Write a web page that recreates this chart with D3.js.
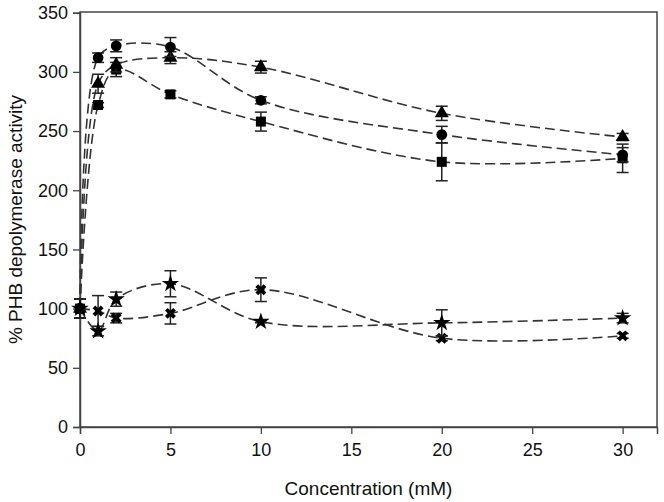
<!DOCTYPE html>
<html><head><meta charset="utf-8">
<script src="https://cdn.jsdelivr.net/npm/d3@7"></script>
<style>body{margin:0;background:#fff}svg{display:block}text{font-family:"Liberation Sans",Arial,sans-serif;fill:#111}</style>
</head><body><svg id="c" width="664" height="502"></svg>
<script>
const xValues = [0, 1, 2, 5, 10, 20, 30];
const circleVals = [100, 312, 322, 321, 276, 247, 230];
const circleErr = [8, 4, 5, 8, 3, 7, 6];
const triangleVals = [100, 290, 306, 312, 304, 265, 245];
const triangleErr = [8, 8, 6, 5, 5, 6, 3];
const squareVals = [100, 272, 302, 281, 258, 224, 227];
const squareErr = [8, 2, 6, 3, 8, 16, 12];
const starVals = [100, 81, 108, 121, 89, 88, 92];
const starErr = [8, 4, 6, 11, 1, 11, 4];
const crossVals = [100, 98, 92, 96, 116, 75, 77];
const crossErr = [8, 13, 4, 9, 10, 2, 2];
const xTicks = [0, 5, 10, 15, 20, 25, 30];
const yTicks = [0, 50, 100, 150, 200, 250, 300, 350];

const svg = d3.select("#c");
const L = 80, R = 657, T = 12, B = 427;
const x = d3.scaleLinear().domain([0, 31.9]).range([L, R]);
const y = d3.scaleLinear().domain([0, 350]).range([B, T + 0.7]);

// frame
svg.append("rect").attr("x", L).attr("y", T).attr("width", R - L).attr("height", B - T)
  .attr("fill", "none").attr("stroke", "#444").attr("stroke-width", 1.5);

const fs = 18;
const xa = svg.append("g").attr("transform", `translate(0,${B})`)
  .call(d3.axisBottom(x).tickValues(xTicks).tickSize(7).tickPadding(9).tickFormat(d3.format("d")));
const ya = svg.append("g").attr("transform", `translate(${L},0)`)
  .call(d3.axisLeft(y).tickValues(yTicks).tickSize(7).tickPadding(5).tickFormat(d3.format("d")));
[xa, ya].forEach(a => {
  a.select(".domain").attr("stroke", "#444").attr("stroke-width", 1.5);
  a.selectAll(".tick line").attr("stroke", "#444").attr("stroke-width", 1.3);
  a.selectAll("text").attr("font-size", fs).attr("fill", "#111")
    .attr("font-family", '"Liberation Sans",Arial,sans-serif');
});

svg.append("text").attr("x", (L + R) / 2).attr("y", 495).attr("text-anchor", "middle")
  .attr("font-size", 19).text("Concentration (mM)");
svg.append("text").attr("transform", `translate(22,${(T + B) / 2}) rotate(-90)`)
  .attr("text-anchor", "middle").attr("font-size", 19).text("% PHB depolymerase activity");

const series = [
  {vals: squareVals, err: squareErr, sym: d3.symbolSquare, size: 100, rot: 0},
  {vals: triangleVals, err: triangleErr, sym: d3.symbolTriangle, size: 85, rot: 0},
  {vals: circleVals, err: circleErr, sym: d3.symbolCircle, size: 90, rot: 0},
  {vals: crossVals, err: crossErr, sym: d3.symbolCross, size: 75, rot: 45},
  {vals: starVals, err: starErr, sym: d3.symbolStar, size: 95, rot: 0}
];

const line = d3.line().x(d => x(d[0])).y(d => y(d[1])).curve(d3.curveCatmullRom.alpha(0.5));

series.forEach(s => {
  const pts = xValues.map((xv, i) => [xv, s.vals[i], s.err[i]]);
  svg.append("path").datum(pts).attr("d", line).attr("fill", "none")
    .attr("stroke", "#333").attr("stroke-width", 1.6).attr("stroke-dasharray", "10,5");
  const g = svg.append("g");
  pts.forEach(p => {
    const cx = x(p[0]), lo = y(p[1] - p[2]), hi = y(p[1] + p[2]);
    g.append("line").attr("x1", cx).attr("x2", cx).attr("y1", lo).attr("y2", hi)
      .attr("stroke", "#222").attr("stroke-width", 1.5);
    [lo, hi].forEach(yy => g.append("line").attr("x1", cx - 6).attr("x2", cx + 6)
      .attr("y1", yy).attr("y2", yy).attr("stroke", "#222").attr("stroke-width", 1.5));
  });
  svg.append("g").selectAll("path").data(pts).join("path")
    .attr("d", d3.symbol().type(s.sym).size(s.size))
    .attr("transform", d => `translate(${x(d[0])},${y(d[1])}) rotate(${s.rot})`)
    .attr("fill", "#000");
});
</script></body></html>
